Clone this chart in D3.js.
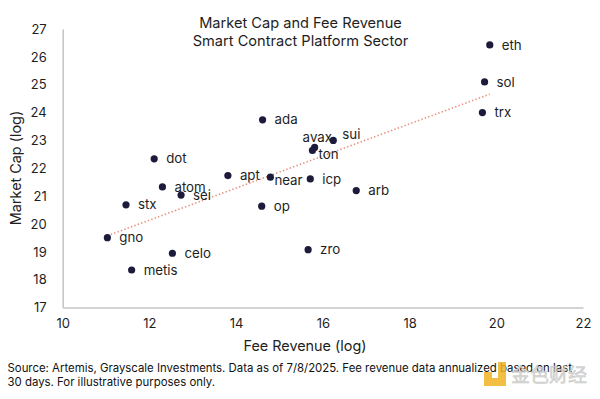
<!DOCTYPE html>
<html>
<head>
<meta charset="utf-8">
<script src="https://cdn.jsdelivr.net/npm/d3@7"></script>
<style>
  body { margin: 0; background: #fff; }
  svg { display: block; font-family: Inter, "Noto Sans", sans-serif; }
</style>
</head>
<body>
<script>
// chart data
let tokens     = ["eth", "sol", "trx", "ada", "sui", "avax", "ton", "dot", "apt", "near", "icp", "arb", "atom", "sei", "stx", "op", "gno", "celo", "metis", "zro"];
let feeRevenue = [19.85, 19.73, 19.68, 14.61, 16.24, 15.81, 15.76, 12.11, 13.81, 14.79, 15.71, 16.77, 12.30, 12.73, 11.46, 14.59, 11.03, 12.53, 11.59, 15.66];
let marketCap  = [26.43, 25.10, 24.00, 23.74, 23.00, 22.75, 22.64, 22.34, 21.74, 21.68, 21.62, 21.20, 21.33, 21.04, 20.69, 20.64, 19.51, 18.95, 18.35, 19.08];

// trend line end points (fee revenue, market cap)
let trendX = [11.03, 19.85];
let trendY = [19.58, 24.66];

let xTicks = [10, 12, 14, 16, 18, 20, 22];
let yTicks = [17, 18, 19, 20, 21, 22, 23, 24, 25, 26, 27];

let titleLines  = ["Market Cap and Fee Revenue", "Smart Contract Platform Sector"];
let footerLines = ["Source: Artemis, Grayscale Investments. Data as of 7/8/2025. Fee revenue data annualized based on last",
                   "30 days. For illustrative purposes only."];

// a few labels are not simply to the right of their dot
let labelShift = {
    avax: {dx: -12, dy: -10},
    sui:  {dx: 9,  dy: -6},
    ton:  {dx: 6,  dy: 4},
    near: {dx: 4,  dy: 3}
};

let width = 600, height = 399;
let margin = {left: 62.7, right: 17, top: 29, bottom: 91.4};

let svg = d3.select("body").append("svg")
    .attr("width", width).attr("height", height);

let x = d3.scaleLinear().domain([10, 22]).range([margin.left, width - margin.right]);
let y = d3.scaleLinear().domain([17, 27]).range([height - margin.bottom, margin.top]);

let data = tokens.map((t, i) => ({name: t, fee: feeRevenue[i], cap: marketCap[i]}));

// axes
let xAxis = svg.append("g")
    .attr("transform", "translate(0," + y(17) + ")")
    .call(d3.axisBottom(x).tickValues(xTicks).tickSize(0).tickPadding(11));
let yAxis = svg.append("g")
    .attr("transform", "translate(" + x(10) + ",0)")
    .call(d3.axisLeft(y).tickValues(yTicks).tickSize(0).tickPadding(16));

[xAxis, yAxis].forEach((g) => {
    g.select(".domain").attr("stroke", "#c4c4c4").attr("stroke-width", 1.5);
    g.selectAll("text").attr("font-size", 13).attr("fill", "#1e1e1e").attr("font-family", "Inter, sans-serif");
});

// trend line
let line = d3.line().x((d) => x(d[0])).y((d) => y(d[1]));
svg.append("path")
    .attr("d", line(trendX.map((v, i) => [v, trendY[i]])))
    .attr("fill", "none")
    .attr("stroke", "#e8907c")
    .attr("stroke-width", 1.6)
    .attr("stroke-dasharray", "1.4 2.2");

// dots
svg.append("g").selectAll("circle")
    .data(data).join("circle")
    .attr("cx", (d) => x(d.fee))
    .attr("cy", (d) => y(d.cap))
    .attr("r", 3.6)
    .attr("fill", "#1d1b3c");

// dot labels
svg.append("g").selectAll("text")
    .data(data).join("text")
    .attr("x", (d) => x(d.fee) + (labelShift[d.name] ? labelShift[d.name].dx : 12))
    .attr("y", (d) => y(d.cap) + (labelShift[d.name] ? labelShift[d.name].dy : 0))
    .attr("dy", "0.35em")
    .attr("font-size", 13.3)
    .attr("fill", "#1e1e1e")
    .text((d) => d.name);

// titles
svg.append("g").selectAll("text")
    .data(titleLines).join("text")
    .attr("x", 300.5)
    .attr("y", (d, i) => 22.5 + i * 18)
    .attr("dy", "0.35em")
    .attr("text-anchor", "middle")
    .attr("font-size", 14.6)
    .attr("fill", "#1e1e1e")
    .text((d) => d);

svg.append("text")
    .attr("x", 305).attr("y", 346).attr("dy", "0.35em")
    .attr("text-anchor", "middle")
    .attr("font-size", 14.4).attr("fill", "#1e1e1e")
    .text("Fee Revenue (log)");

svg.append("text")
    .attr("transform", "translate(16,168) rotate(-90)")
    .attr("dy", "0.35em")
    .attr("text-anchor", "middle")
    .attr("font-size", 14.4).attr("fill", "#1e1e1e")
    .text("Market Cap (log)");

// footer
svg.append("g").selectAll("text")
    .data(footerLines).join("text")
    .attr("x", 7.5)
    .attr("y", (d, i) => 368.3 + i * 13.6)
    .attr("dy", "0.35em")
    .attr("font-size", 11.4)
    .attr("fill", "#111")
    .text((d) => d);

// watermark
let wm = svg.append("g").attr("opacity", 0.85);
wm.append("path")
    .attr("d", "M484,372 h8 v6 h6 v-16 h8 v24 h-22 z")
    .attr("fill", "#f0b323");
wm.append("text")
    .attr("x", 511).attr("y", 375).attr("dy", "0.35em")
    .attr("font-family", "'Noto Sans CJK SC', sans-serif")
    .attr("font-size", 19)
    .attr("fill", "#d4d4d4")
    .attr("stroke", "#bdbdbd").attr("stroke-width", 0.5)
    .text("金色财经");
</script>
</body>
</html>
